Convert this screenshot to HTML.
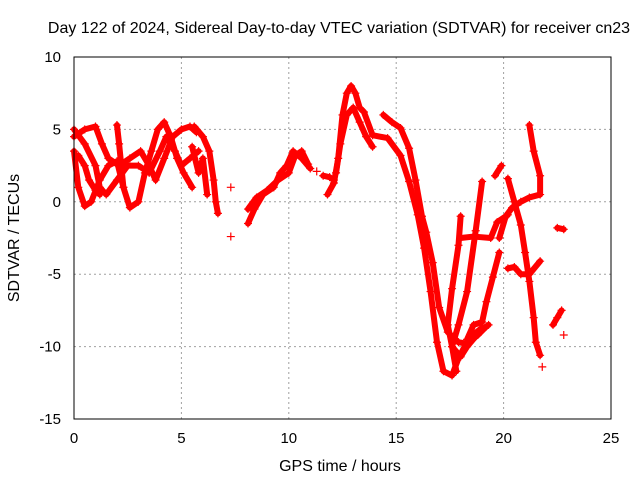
<!DOCTYPE html>
<html><head><meta charset="utf-8">
<style>
body{margin:0;background:#fff;}
svg{display:block;font-family:"Liberation Sans",sans-serif;}
</style></head>
<body>
<svg id="chart" width="640" height="480">
<text x="339" y="33" font-size="16" text-anchor="middle">Day 122 of 2024, Sidereal Day-to-day VTEC variation (SDTVAR) for receiver cn23</text>
<text x="340" y="471" font-size="16" text-anchor="middle">GPS time / hours</text>
<text transform="translate(19,238) rotate(-90)" font-size="16" text-anchor="middle">SDTVAR / TECUs</text>
<g id="grid"></g>
<g id="marks"></g>
<rect x="74" y="57" width="537" height="362" fill="none" stroke="#000" stroke-width="1"/>
</svg>
<script>
const xTicks=[0,5,10,15,20,25];
const yTicks=[10,5,0,-5,-10,-15];
const track1=[[0,3.5],[0.2,1],[0.5,-0.3],[0.8,0],[1.2,1.5],[1.6,2.5],[2,2.8],[2.3,1],[2.6,-0.4],[3,0],[3.3,2],[3.6,3.5],[3.9,5],[4.2,5.5],[4.5,4.5],[4.8,3],[5.1,2],[5.5,1]];
const track2=[[0,5],[0.5,4],[1,2.5],[1.2,1],[1.5,0.5],[2,1.5],[2.5,2.5],[3,2.5],[3.5,2],[4,3.5],[4.3,4.5],[4.7,3.5],[5,2.5],[5.4,3],[5.8,3.5]];
const track3=[[0,4.5],[0.5,5],[1,5.2],[1.3,4],[1.6,3],[2.1,2.5],[2.6,3],[3.1,3.5],[3.5,2.5],[3.8,1.5],[4.2,3],[4.6,4.5],[5,5],[5.4,5.2],[5.7,4.8]];
const track4=[[0.2,3.2],[0.5,2.5],[0.7,1.5],[1,0.8],[1.2,0.5]];
const track5=[[2,5.3],[2.1,4],[2.2,2.5],[2.3,1]];
const track6=[[5.6,5.2],[6,4.5],[6.3,3.5],[6.5,1.5],[6.6,0],[6.7,-0.8]];
const track7=[[5.5,3.8],[5.8,2],[6,3],[6.2,0.5]];
const track8=[[8.1,-1.5],[8.4,-0.5],[8.8,0.5],[9.3,1],[9.6,2],[9.9,2.5],[10.2,3.5],[10.6,3],[11,2.3]];
const track9=[[8.1,-0.5],[8.5,0.3],[9,0.8],[9.5,1.5],[10,2],[10.3,3.2],[10.6,3.5],[10.9,2.6]];
const track10=[[11.6,1.8],[11.9,1.7],[12.1,1.5]];
const track11=[[11.8,0.5],[12.1,1.3],[12.3,3],[12.5,6],[12.7,7.5],[12.9,8],[13.1,7.5],[13.3,6.5],[13.5,6.2],[13.9,4.6],[14.6,4.4],[15.2,3.2],[15.6,1.4],[16,-0.9],[16.3,-3.2],[16.6,-6.2],[16.9,-9.7],[17.2,-11.7],[17.6,-12],[17.9,-10.8],[18.4,-9.4],[19,-8.7]];
const track12=[[12.2,2],[12.4,4],[12.7,6],[13,6.5],[13.3,5.5],[13.6,4.5],[13.9,3.8]];
const track13=[[14.4,6],[14.8,5.5],[15.2,5.1],[15.6,3.7],[15.9,1.5],[16.2,-1],[16.4,-2.1],[16.7,-4.2],[17,-7.3],[17.4,-9],[17.9,-9.7],[18.3,-9.8],[18.8,-9.2],[19.2,-8.6]];
const track14=[[18,-1],[17.9,-3],[17.6,-6],[17.4,-8.5],[17.6,-10],[18,-10.7],[18.3,-10],[18.7,-9.3],[19,-8.8],[19.3,-8.5]];
const track15=[[19,1.4],[18.7,-2],[18.3,-6.2],[17.9,-8.5],[17.6,-10],[17.8,-11.7]];
const track16=[[19.6,1.8],[19.9,2.5]];
const track17=[[19.8,-3.5],[19.5,-5.2],[19.2,-6.9],[19,-8.3],[18.6,-8.5],[18.3,-9.5]];
const track18=[[18,-2.5],[18.6,-2.4],[19.4,-2.5],[19.7,-1.4],[20.2,-0.9]];
const track19=[[20.2,1.6],[20.5,0],[20.8,-1.6],[21,-3.5],[21.2,-5.5],[21.4,-8],[21.5,-9.7],[21.7,-10.6]];
const track20=[[21.2,5.3],[21.4,3.5],[21.7,1.8],[21.7,0.5],[21.2,0.3],[20.8,0],[20.4,-0.4],[20.1,-1],[19.8,-2.5]];
const track21=[[20.2,-4.6],[20.5,-4.5],[20.8,-5],[21.2,-5],[21.7,-4.1]];
const track22=[[22.5,-1.8],[22.8,-1.9]];
const track23=[[22.3,-8.5],[22.5,-8],[22.7,-7.5]];
const singles=[[7.3,1],[7.3,-2.4],[21.8,-11.4],[22.8,-9.2],[11.3,2.1]];
const tracks=[track1,track2,track3,track4,track5,track6,track7,track8,track9,track10,track11,track12,track13,track14,track15,track16,track17,track18,track19,track20,track21,track22,track23];

const X0=74,X1=611,Y0=419,Y1=57;
const xs=t=>X0+(t-0)/25*(X1-X0);
const ys=v=>Y0-(v+15)/25*(Y0-Y1);
const NS="http://www.w3.org/2000/svg";
const grid=document.getElementById('grid'),marks=document.getElementById('marks');
const svg=document.getElementById('chart');
xTicks.forEach(t=>{
  const x=xs(t);
  if(t>0&&t<25){const l=document.createElementNS(NS,'line');
  l.setAttribute('x1',x);l.setAttribute('x2',x);l.setAttribute('y1',Y1);l.setAttribute('y2',Y0);
  l.setAttribute('stroke','#a0a0a0');l.setAttribute('stroke-dasharray','2,3');
  
  
  grid.appendChild(l);}
  const tx=document.createElementNS(NS,'text');
  tx.setAttribute('x',x);tx.setAttribute('y',Y0+24);tx.setAttribute('font-size','15');tx.setAttribute('text-anchor','middle');
  tx.textContent=t;
  
  
  svg.appendChild(tx);
});
yTicks.forEach(v=>{
  const y=ys(v);
  if(v<10&&v>-15){const l=document.createElementNS(NS,'line');
  l.setAttribute('x1',X0);l.setAttribute('x2',X1);l.setAttribute('y1',y);l.setAttribute('y2',y);
  l.setAttribute('stroke','#a0a0a0');l.setAttribute('stroke-dasharray','2,3');
  
  
  grid.appendChild(l);}
  const tx=document.createElementNS(NS,'text');
  tx.setAttribute('x',X0-13);tx.setAttribute('y',y+5);tx.setAttribute('font-size','15');tx.setAttribute('text-anchor','end');
  tx.textContent=v;
  
  
  svg.appendChild(tx);
});
function plus(t,v){
  const p=document.createElementNS(NS,'path');
  const x=xs(t),y=ys(v);
  p.setAttribute('d',`M${x-4} ${y}H${x+4}M${x} ${y-4}V${y+4}`);
  p.setAttribute('stroke','#f00');p.setAttribute('stroke-width','1.2');
  
  
  marks.appendChild(p);
}
tracks.forEach(tr=>{
  const pl=document.createElementNS(NS,'polyline');
  pl.setAttribute('points',tr.map(d=>xs(d[0])+','+ys(d[1])).join(' '));
  pl.setAttribute('fill','none');pl.setAttribute('stroke','#f00');pl.setAttribute('stroke-width','6');
  pl.setAttribute('stroke-linejoin','round');pl.setAttribute('stroke-linecap','round');
  
  
  marks.appendChild(pl);
  tr.forEach(d=>plus(d[0],d[1]));
});
singles.forEach(d=>plus(d[0],d[1]));
</script>
</body></html>
